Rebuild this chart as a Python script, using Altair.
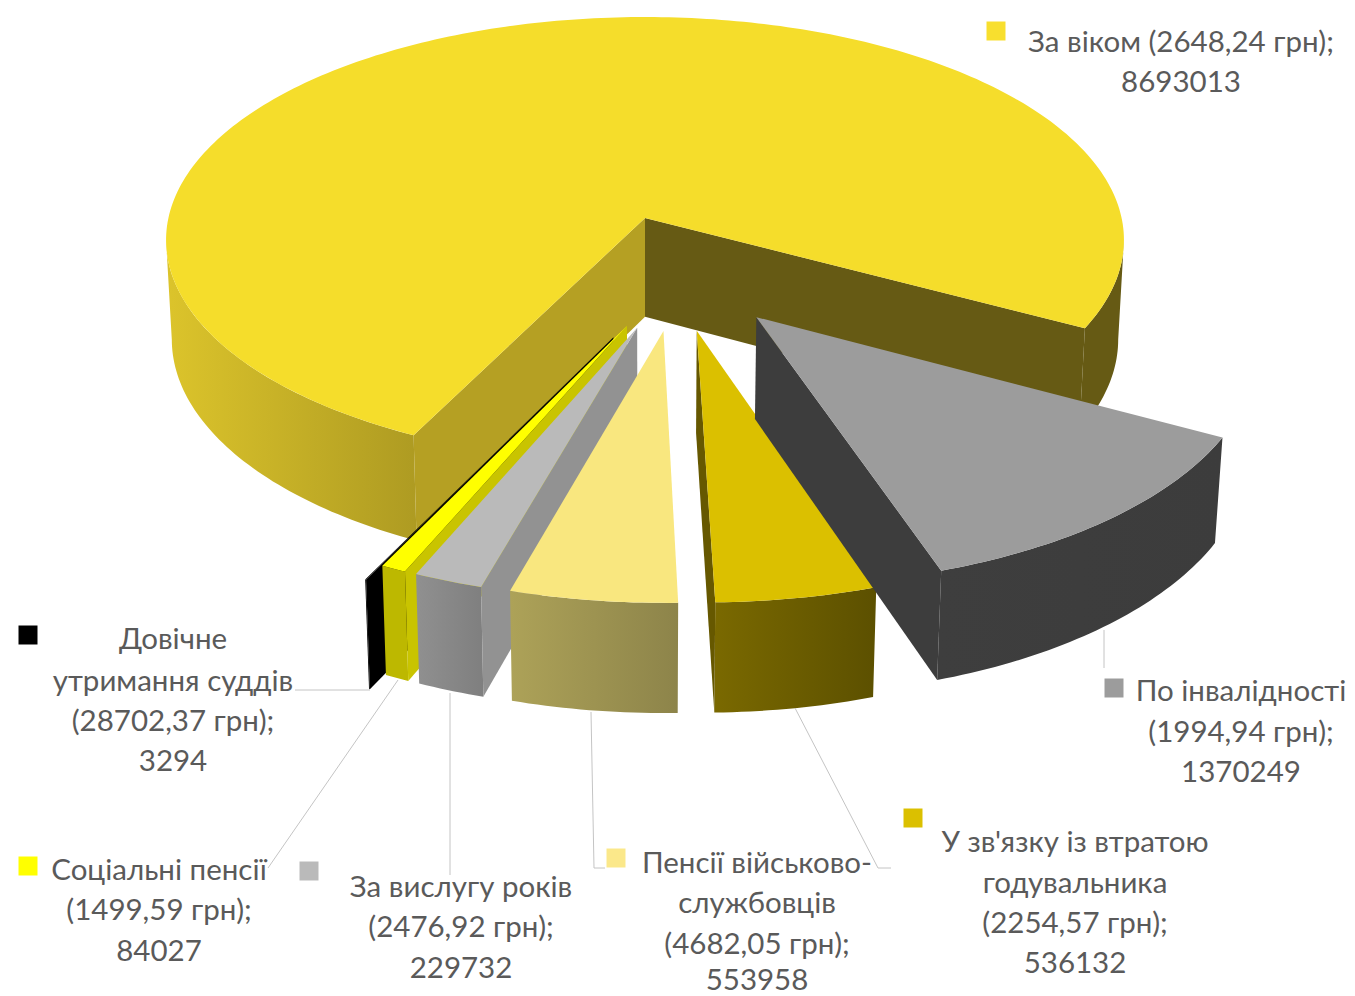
import math
import altair as alt
import pandas as pd

# ---- values (order: clockwise from the big slice's end) ----
names = ["По інвалідності", "У зв'язку із втратою годувальника", "Пенсії військовослужбовців",
         "За вислугу років", "Соціальні пенсії", "Довічне утримання суддів", "За віком"]
values = [1370249, 536132, 553958, 229732, 84027, 3294, 8693013]
explosion = [0.255, 0.255, 0.255, 0.255, 0.255, 0.31, 0.242]
side_shift = [0.0, 0.0, 0.010, 0.011, 0.011, 0.014, 0.0]
top_colors = ["#9C9C9C", "#DBC000", "#F9E77F", "#BABABA", "#FFFF00", "#000000", "#F5DD2B"]
wall_left = ["#3E3E3E", "#7A6900", "#ADA258", "#909090", "#BDB800", "#000000", "#DCC42B"]
wall_right = ["#3C3C3C", "#5C5000", "#8D844A", "#7F7F7F", "#BDB800", "#000000", "#AE9B22"]
radial_color = ["#3D3D3D", "#665800", "#000000", "#929292", "#C9C400", "#000000", "#B5A023"]
# which cut face of each wedge the camera sees: "end" = left edge, "start" = right edge
radial_seen = ["end", "end", "", "start", "start", "start", "both"]
draw_order = [6, 5, 4, 3, 2, 1, 0]

label_lines = [
    ["За віком (2648,24 грн);", "8693013"],
    ["По інвалідності", "(1994,94 грн);", "1370249"],
    ["У зв'язку із втратою", "годувальника", "(2254,57 грн);", "536132"],
    ["Пенсії військово-", "службовців", "(4682,05 грн);", "553958"],
    ["За вислугу років", "(2476,92 грн);", "229732"],
    ["Соціальні пенсії", "(1499,59 грн);", "84027"],
    ["Довічне", "утримання суддів", "(28702,37 грн);", "3294"],
]
label_x = [1181, 1241, 1075, 757, 461, 159, 173]
label_y = [
    [41, 81],
    [690, 731, 771],
    [841, 882, 922, 962],
    [862, 902, 943, 979],
    [886, 926, 967],
    [869, 909, 950],
    [638, 680, 720, 760],
]
key_x = [996, 1114, 913, 616, 309, 28, 28]
key_y = [31, 688, 818, 858, 871, 866, 635]
key_colors = ["#F8DF2E", "#9C9C9C", "#DBC000", "#FBE88A", "#BABABA", "#FFFF00", "#000000"]
leaders = [
    [(1104, 630), (1104, 668)],
    [(795, 708), (878, 868), (891, 868)],
    [(591, 712), (594, 868), (605, 868)],
    [(450, 693), (450, 875)],
    [(398, 680), (268, 868)],
    [(370, 690), (295, 690)],
]

# ---- projection of the tilted pie (perspective) ----
AX, AY = 645.0, 218.0       # cut corner of the big slice on screen
R, S, D = 476.6, 220.8, 100.0
K, M = 0.0987, 0.012
START = 118.4               # clockwise from 12 o'clock, where the first wedge starts
FRONT_STRETCH = 1.008       # the front wedges read very slightly wider than their share
BIG_TURN = 3.3              # the big slice is pulled a little off its own mid-line
SILHOUETTE = math.degrees(math.acos(-K))   # angle at which the rim turns behind the top


def project(u, v, z):
    w = 1 + K * v + M * z
    return AX + R * u / w, AY - S * v / w + D * z / w


total = sum(values)
edges = [START]
for val in values[:-1]:
    edges.append(edges[-1] + val / total * 360 * FRONT_STRETCH)
edges.append(START + 360)


def polar(a):
    return math.sin(math.radians(a)), math.cos(math.radians(a))


bu, bv = polar((edges[6] + edges[7]) / 2 + BIG_TURN)


def apex(i):
    if i == 6:
        return 0.0, 0.0
    mu, mv = polar((edges[i] + edges[i + 1]) / 2)
    return explosion[i] * mu - explosion[6] * bu + side_shift[i], explosion[i] * mv - explosion[6] * bv


def rim(i, a0, a1, z, steps=None):
    n = steps or max(2, int(abs(a1 - a0)) + 2)
    ou, ov = apex(i)
    pts = []
    for j in range(n + 1):
        a = a0 + (a1 - a0) * j / n
        pu, pv = polar(a)
        pts.append(project(ou + pu, ov + pv, z))
    return pts


X = alt.X("x:Q", scale=alt.Scale(domain=[8, 1347]), axis=None)
Y = alt.Y("y:Q", scale=alt.Scale(domain=[8, 996], reverse=True), axis=None)


def poly(points, fill):
    df = pd.DataFrame([{"x": p[0], "y": p[1], "i": n} for n, p in enumerate(points + points[:1])])
    return alt.Chart(df).mark_line(fill=fill, stroke=None, strokeWidth=0).encode(x=X, y=Y, order="i:Q")


def grad(c0, c1):
    return alt.Gradient(
        gradient="linear", x1=0, x2=1, y1=0, y2=0,
        stops=[alt.GradientStop(offset=0, color=c0), alt.GradientStop(offset=1, color=c1)],
    )


def outer_wall(i, a0, a1, fill):
    top = rim(i, a0, a1, 0)
    bot = rim(i, a0, a1, 1)
    return poly(top + bot[::-1], fill)


def radial_wall(i, a, fill):
    ou, ov = apex(i)
    c0 = project(ou, ov, 0)
    c1 = project(ou, ov, 1)
    r0 = rim(i, a, a, 0, 1)[0]
    r1 = rim(i, a, a, 1, 1)[0]
    return poly([c0, r0, r1, c1], fill)


layers = []
for i in draw_order:
    a0, a1 = edges[i], edges[i + 1]
    if i == 6:  # big slice: visible rim in two pieces
        layers.append(outer_wall(i, a0, 360 - SILHOUETTE, grad(wall_left[i], wall_right[i])))
        layers.append(outer_wall(i, SILHOUETTE, a1 - 360, "#665A14"))
        layers.append(radial_wall(i, a0, radial_color[i]))
        layers.append(radial_wall(i, a1, "#665A14"))
    else:
        layers.append(outer_wall(i, a0, a1, grad(wall_left[i], wall_right[i])))
        if radial_seen[i] == "end":
            layers.append(radial_wall(i, a1, radial_color[i]))
        elif radial_seen[i] == "start":
            layers.append(radial_wall(i, a0, radial_color[i]))
    ou, ov = apex(i)
    layers.append(poly([project(ou, ov, 0)] + rim(i, a0, a1, 0), top_colors[i]))

for n, seg in enumerate(leaders):
    df = pd.DataFrame([{"x": p[0], "y": p[1], "i": j} for j, p in enumerate(seg)])
    layers.append(alt.Chart(df).mark_line(color="#C4C4C4", strokeWidth=1).encode(x=X, y=Y, order="i:Q"))

keys = pd.DataFrame({"x": key_x, "y": key_y, "c": key_colors})
layers.append(
    alt.Chart(keys).mark_square(size=361, opacity=1, strokeWidth=0).encode(
        x=X, y=Y, color=alt.Color("c:N", scale=None)
    )
)

rows = []
for lx, ly, lines in zip(label_x, label_y, label_lines):
    for yy, t in zip(ly, lines):
        rows.append({"x": lx, "y": yy, "t": t})
layers.append(
    alt.Chart(pd.DataFrame(rows)).mark_text(
        font="Lato", fontSize=29.5, dy=2, color="#5A5A5A", align="center", baseline="middle"
    ).encode(x=X, y=Y, text="t:N")
)

chart = (
    alt.layer(*layers)
    .properties(width=1339, height=988, padding=0, autosize=alt.AutoSizeParams(type="none"))
    .configure_view(stroke=None)
)
chart.save("out.html", embed_options={"renderer": "svg", "actions": False})
